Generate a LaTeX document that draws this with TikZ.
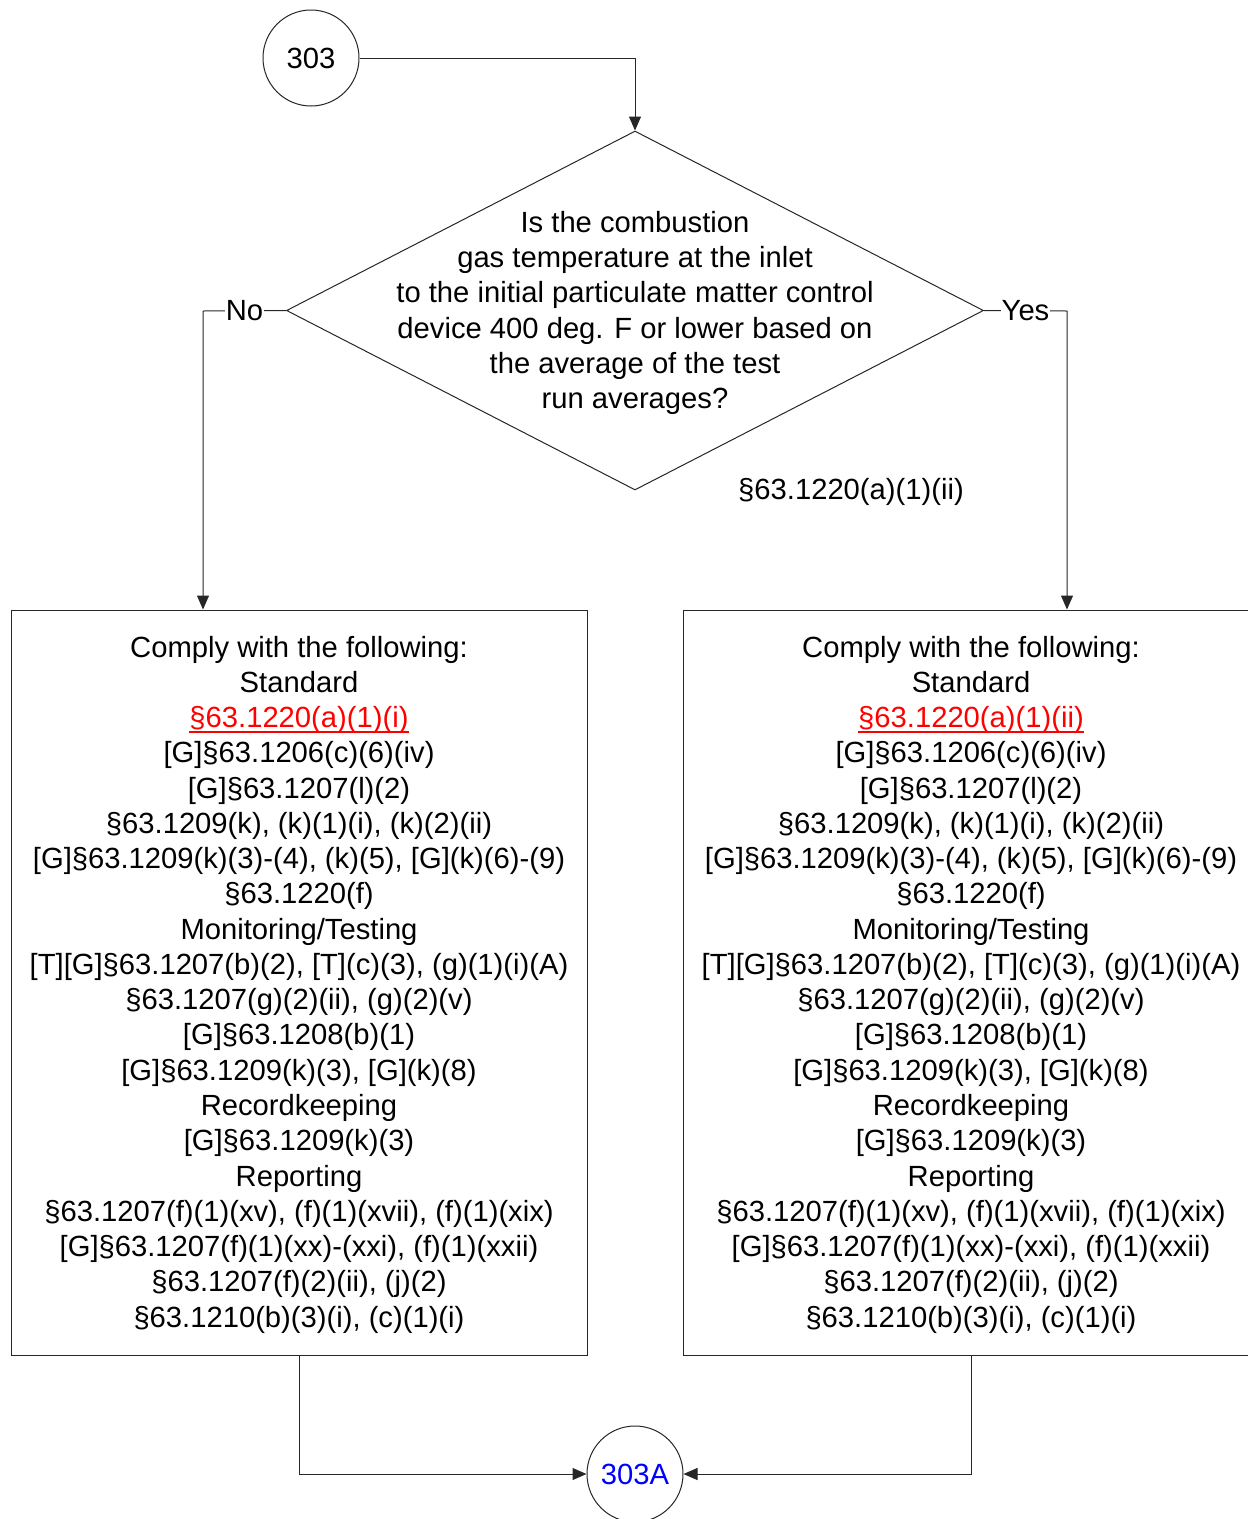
\documentclass[tikz,border=0pt]{standalone}
\usepackage{fontspec}
\setmainfont{Liberation Sans}
\usetikzlibrary{arrows.meta,shapes.geometric,calc}
\definecolor{linkred}{RGB}{255,0,0}
\definecolor{refblue}{RGB}{0,0,255}
\newcommand{\lnk}[1]{\textcolor{linkred}{\setbox0\hbox{#1}\rlap{\rule[-5pt]{\wd0}{1.8pt}}\box0}}
\begin{document}
\begin{tikzpicture}[x=1pt,y=-1pt,
  every node/.style={font=\fontsize{29.2}{35.26}\selectfont},
  conn/.style={draw=black!85, line width=1pt},
  arr/.style={conn, -{Triangle[length=14pt,width=12pt]}},
  connector/.style={circle, draw=black!85, line width=1pt, minimum size=96pt, inner sep=0pt},
  decision/.style={diamond, draw=black!85, line width=1pt, minimum width=697pt, minimum height=359pt, inner sep=0pt},
  process/.style={rectangle, draw=black!85, line width=1pt, minimum width=576pt, minimum height=745pt, inner sep=0pt},
  boxtext/.style={align=center, inner sep=0pt},
  lbl/.style={fill=white, inner sep=1pt},
]
\useasboundingbox (0,0) rectangle (1248,1519);
\node[connector] (c303) at (311,58) {303};
\node[decision] (dec) at (635,310.5) {};
\node[boxtext] (dectext) at (635,313) {Is the combustion\\gas temperature at the inlet\\to the initial particulate matter control\\device 400 deg. F or lower based on\\the average of the test\\run averages?};
\node (reflbl) at (851,492) {§63.1220(a)(1)(ii)};
\node[process] (left) at (299,982.5) {};
\node[process] (right) at (971,982.5) {};
\node[boxtext] (lefttext) at (299,984.5) {Comply with the following:\\Standard\\\lnk{§63.1220(a)(1)(i)}\\{}[G]§63.1206(c)(6)(iv)\\{}[G]§63.1207(l)(2)\\§63.1209(k), (k)(1)(i), (k)(2)(ii)\\{}[G]§63.1209(k)(3)-(4), (k)(5), [G](k)(6)-(9)\\§63.1220(f)\\Monitoring/Testing\\{}[T][G]§63.1207(b)(2), [T](c)(3), (g)(1)(i)(A)\\§63.1207(g)(2)(ii), (g)(2)(v)\\{}[G]§63.1208(b)(1)\\{}[G]§63.1209(k)(3), [G](k)(8)\\Recordkeeping\\{}[G]§63.1209(k)(3)\\Reporting\\§63.1207(f)(1)(xv), (f)(1)(xvii), (f)(1)(xix)\\{}[G]§63.1207(f)(1)(xx)-(xxi), (f)(1)(xxii)\\§63.1207(f)(2)(ii), (j)(2)\\§63.1210(b)(3)(i), (c)(1)(i)};
\node[boxtext] (righttext) at (971,984.5) {Comply with the following:\\Standard\\\lnk{§63.1220(a)(1)(ii)}\\{}[G]§63.1206(c)(6)(iv)\\{}[G]§63.1207(l)(2)\\§63.1209(k), (k)(1)(i), (k)(2)(ii)\\{}[G]§63.1209(k)(3)-(4), (k)(5), [G](k)(6)-(9)\\§63.1220(f)\\Monitoring/Testing\\{}[T][G]§63.1207(b)(2), [T](c)(3), (g)(1)(i)(A)\\§63.1207(g)(2)(ii), (g)(2)(v)\\{}[G]§63.1208(b)(1)\\{}[G]§63.1209(k)(3), [G](k)(8)\\Recordkeeping\\{}[G]§63.1209(k)(3)\\Reporting\\§63.1207(f)(1)(xv), (f)(1)(xvii), (f)(1)(xix)\\{}[G]§63.1207(f)(1)(xx)-(xxi), (f)(1)(xxii)\\§63.1207(f)(2)(ii), (j)(2)\\§63.1210(b)(3)(i), (c)(1)(i)};
\node[connector, text=refblue] (c303A) at (635,1474) {303A};
\coordinate (noturn) at (203,311);
\coordinate (yesturn) at (1067,311);
\draw[arr] (c303.east) -| (dec.north);
\draw[arr] (dec.west) -- node[lbl] {No} (noturn) -- (noturn |- left.north);
\draw[arr] (dec.east) -- node[lbl] {Yes} (yesturn) -- (yesturn |- right.north);
\draw[arr] (left.south) |- (c303A.west);
\draw[arr] (right.south) |- (c303A.east);
\end{tikzpicture}
\end{document}
